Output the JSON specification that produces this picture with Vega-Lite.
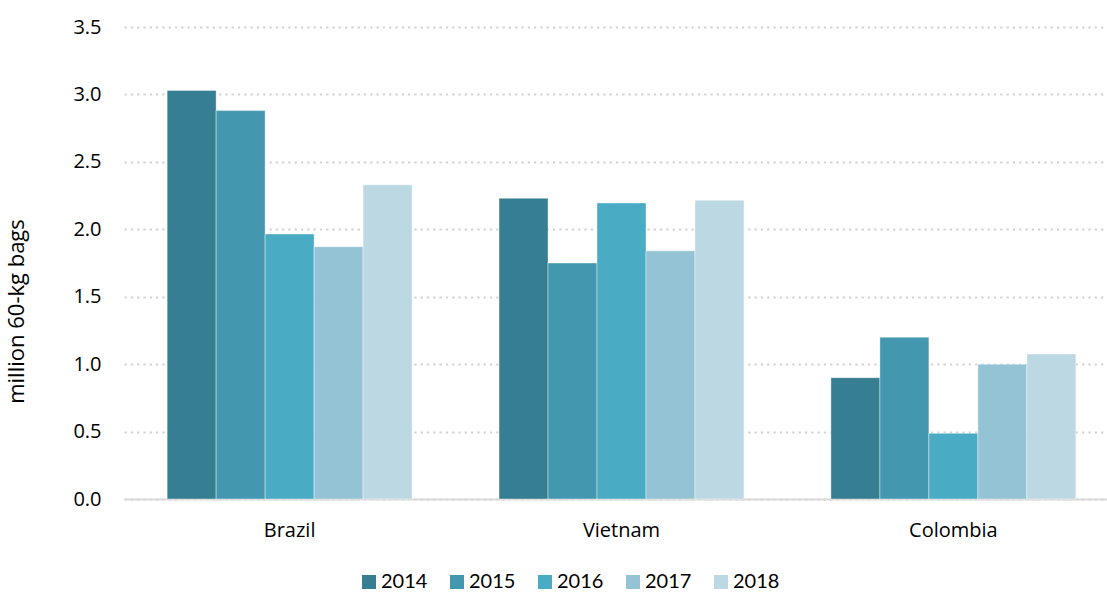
{
  "$schema": "https://vega.github.io/schema/vega-lite/v6.json",
  "autosize": "none",
  "width": 995,
  "height": 472,
  "padding": {"left": 124, "top": 27, "right": 0, "bottom": 93},
  "background": "white",
  "config": {"view": {"stroke": null}},
  "data": {"values": [
    {"country": "Brazil", "year": "2014", "value": 3.03},
    {"country": "Brazil", "year": "2015", "value": 2.88},
    {"country": "Brazil", "year": "2016", "value": 1.965},
    {"country": "Brazil", "year": "2017", "value": 1.87},
    {"country": "Brazil", "year": "2018", "value": 2.33},
    {"country": "Vietnam", "year": "2014", "value": 2.23},
    {"country": "Vietnam", "year": "2015", "value": 1.75},
    {"country": "Vietnam", "year": "2016", "value": 2.195},
    {"country": "Vietnam", "year": "2017", "value": 1.84},
    {"country": "Vietnam", "year": "2018", "value": 2.215},
    {"country": "Colombia", "year": "2014", "value": 0.9},
    {"country": "Colombia", "year": "2015", "value": 1.2},
    {"country": "Colombia", "year": "2016", "value": 0.487},
    {"country": "Colombia", "year": "2017", "value": 1.0},
    {"country": "Colombia", "year": "2018", "value": 1.075}
  ]},
  "mark": {"type": "bar", "stroke": "#ffffff", "strokeOpacity": 0.4, "strokeWidth": 1},
  "encoding": {
    "x": {
      "field": "country", "type": "nominal", "sort": ["Brazil", "Vietnam", "Colombia"],
      "scale": {"paddingInner": 0.262, "paddingOuter": 0.13},
      "axis": {
        "title": null, "labelAngle": 0, "ticks": false,
        "domainColor": "#d9d9d9", "domainWidth": 2,
        "labelFont": "Open Sans", "labelFontSize": 20, "labelColor": "#000000",
        "labelPadding": 21
      }
    },
    "xOffset": {"field": "year", "type": "nominal", "scale": {"paddingInner": 0, "paddingOuter": 0}},
    "y": {
      "field": "value", "type": "quantitative",
      "scale": {"domain": [0, 3.5], "nice": false},
      "axis": {
        "title": "million 60-kg bags", "titleFont": "Open Sans", "titleFontSize": 22,
        "titleFontWeight": "normal", "titleColor": "#000000", "titlePadding": 44,
        "titleY": 284,
        "values": [0, 0.5, 1, 1.5, 2, 2.5, 3, 3.5], "format": ".1f",
        "domain": false, "ticks": false,
        "labelFont": "Open Sans", "labelFontSize": 20, "labelColor": "#000000", "labelPadding": 23,
        "grid": true, "gridColor": "#d3d3d3", "gridWidth": 2, "gridDash": [2.3, 4]
      }
    },
    "color": {
      "field": "year", "type": "nominal",
      "scale": {"domain": ["2014", "2015", "2016", "2017", "2018"],
                "range": ["#367f93", "#4397ae", "#4aabc5", "#93c3d4", "#bcd8e3"]},
      "legend": {
        "title": null, "orient": "none", "direction": "horizontal",
        "legendX": 235, "legendY": 545,
        "symbolType": "square", "symbolSize": 196, "symbolStrokeWidth": 0,
        "labelFont": "Lato", "labelFontSize": 20, "labelColor": "#000000",
        "labelOffset": 2, "columnPadding": 19
      }
    }
  }
}
